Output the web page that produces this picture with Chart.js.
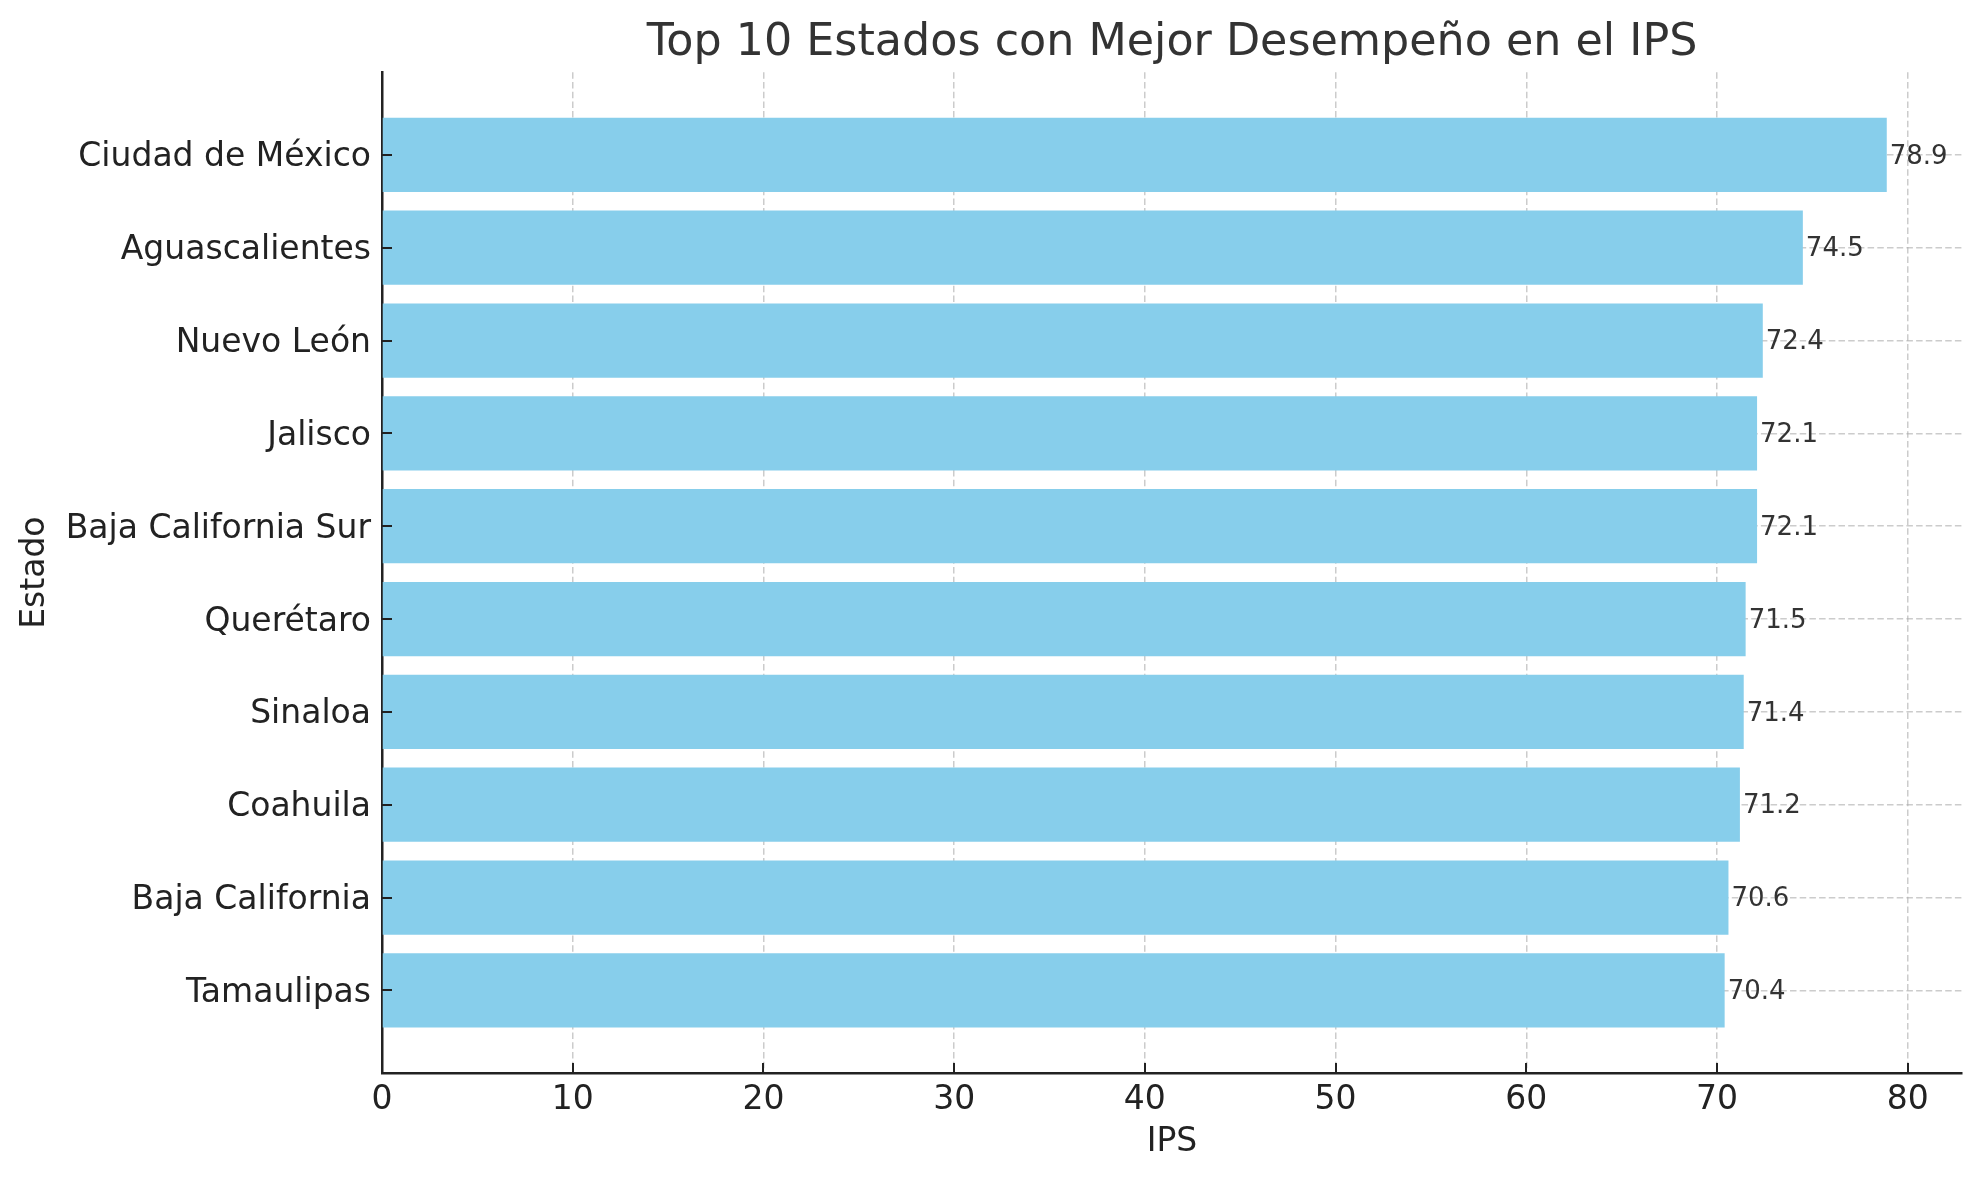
<!DOCTYPE html>
<html>
<head>
<meta charset="utf-8">
<script src="https://cdn.jsdelivr.net/npm/chart.js@4"></script>
<style>
html,body{margin:0;padding:0;background:#ffffff;}
#wrap{width:1979px;height:1180px;}
</style>
</head>
<body>
<div id="wrap"><canvas id="c" width="1979" height="1180"></canvas></div>
<script>
// ---- data ----
const estados = ["Ciudad de México","Aguascalientes","Nuevo León","Jalisco","Baja California Sur","Querétaro","Sinaloa","Coahuila","Baja California","Tamaulipas"];
const ips = [78.9, 74.5, 72.4, 72.1, 72.1, 71.5, 71.4, 71.2, 70.6, 70.4];
const xTickValues = [0, 10, 20, 30, 40, 50, 60, 70, 80];
const valueLabels = ["78.9","74.5","72.4","72.1","72.1","71.5","71.4","71.2","70.6","70.4"];
const titleText = "Top 10 Estados con Mejor Desempeño en el IPS";
const xTitle = "IPS";
const yTitle = "Estado";

const FONT = "'DejaVu Sans', sans-serif";
const points = estados.map((e, i) => ({x: ips[i], y: i}));
const xMax = Math.max(...ips) * 1.05;
const yMin = -0.4 - 0.049 * 10;
const yMax = estados.length - 1 + 0.4 + 0.049 * 10;

const overlay = {
  id: 'overlay',
  afterDraw(chart) {
    const ctx = chart.ctx;
    const xs = chart.scales.x, ys = chart.scales.y;
    const area = chart.chartArea;
    ctx.save();
    // inward tick marks
    ctx.strokeStyle = '#222222';
    ctx.lineWidth = 2;
    xTickValues.forEach(v => {
      const px = Math.round(xs.getPixelForValue(v));
      ctx.beginPath();
      ctx.moveTo(px, area.bottom);
      ctx.lineTo(px, area.bottom - 10);
      ctx.stroke();
    });
    estados.forEach((e, i) => {
      const py = Math.round(ys.getPixelForValue(i));
      ctx.beginPath();
      ctx.moveTo(area.left, py);
      ctx.lineTo(area.left + 10, py);
      ctx.stroke();
    });
    // value labels
    ctx.fillStyle = '#333333';
    ctx.font = "26px " + FONT;
    ctx.textAlign = 'left';
    ctx.textBaseline = 'middle';
    ips.forEach((v, i) => {
      ctx.fillText(valueLabels[i], xs.getPixelForValue(v) + 3, ys.getPixelForValue(i) + 2);
    });
    ctx.restore();
  }
};

new Chart(document.getElementById('c'), {
  type: 'bar',
  data: {
    datasets: [{
      data: points,
      backgroundColor: '#87CEEB',
      borderWidth: 0,
      barPercentage: 0.8,
      categoryPercentage: 1.0
    }]
  },
  options: {
    indexAxis: 'y',
    responsive: false,
    animation: false,
    devicePixelRatio: 1,
    layout: { padding: { left: 0, right: 17, top: 0, bottom: 0 } },
    plugins: {
      legend: { display: false },
      tooltip: { enabled: false },
      title: {
        display: true,
        fullSize: false,
        text: titleText,
        color: '#333333',
        font: { family: FONT, size: 44.4, weight: 'normal', lineHeight: 1.2 },
        padding: { top: 17, bottom: 2 }
      }
    },
    scales: {
      x: {
        type: 'linear',
        position: 'bottom',
        min: 0,
        max: xMax,
        z: 1,
        afterBuildTicks: s => { s.ticks = xTickValues.map(v => ({value: v})); },
        afterFit: s => { s.height = 107; },
        grid: { display: true, color: 'rgba(170,170,170,0.6)', lineWidth: 1.5, drawTicks: false, offset: false },
        border: { display: true, color: '#222222', width: 2.5, dash: [6.5, 3.2] },
        ticks: { color: '#222222', font: { family: FONT, size: 33 }, padding: 8, callback: v => String(v) },
        title: { display: true, text: xTitle, color: '#222222', font: { family: FONT, size: 33, lineHeight: 1.2 }, padding: { top: 0, bottom: 18 } }
      },
      y: {
        type: 'linear',
        position: 'left',
        reverse: true,
        offset: false,
        min: yMin,
        max: yMax,
        z: 1,
        afterBuildTicks: s => { s.ticks = estados.map((e, i) => ({value: i})); },
        afterFit: s => { s.width = 382; },
        grid: { display: true, color: 'rgba(170,170,170,0.6)', lineWidth: 1.5, drawTicks: false, offset: false },
        border: { display: true, color: '#222222', width: 2.5, dash: [6.5, 3.2] },
        ticks: { color: '#222222', font: { family: FONT, size: 33 }, padding: 11, labelOffset: 3, callback: v => estados[v] },
        title: { display: true, text: yTitle, color: '#222222', font: { family: FONT, size: 33, lineHeight: 1.2 }, padding: { top: 16, bottom: 0 } }
      }
    }
  },
  plugins: [overlay]
});
</script>
</body>
</html>
